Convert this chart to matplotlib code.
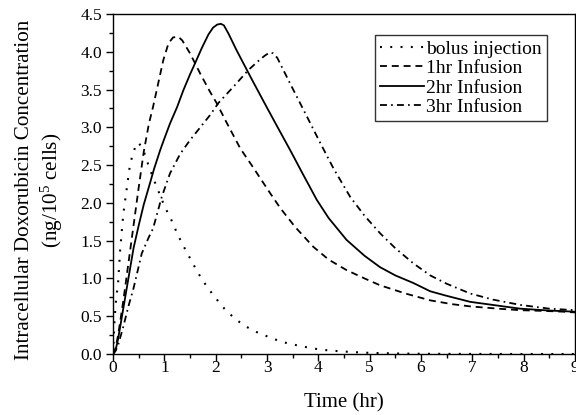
import numpy as np
import matplotlib
matplotlib.use('Agg')
import matplotlib.pyplot as plt
from matplotlib.ticker import MultipleLocator, FormatStrFormatter

plt.rcParams['font.family'] = ['Liberation Serif', 'DejaVu Serif']
plt.rcParams['mathtext.default'] = 'regular'
plt.rcParams['lines.scale_dashes'] = False

# Datos (tiempo en hr, concentracion)
t_bolus = [0, 0.03, 0.06, 0.1, 0.14, 0.2, 0.27, 0.32, 0.38, 0.44, 0.5, 0.6, 0.7, 0.8,
           0.9, 1.0, 1.14, 1.26, 1.38, 1.53, 1.66, 1.83, 2.0, 2.17, 2.37, 2.57, 2.8,
           3.05, 3.29, 3.55, 3.77, 4.02, 4.26, 4.65, 5.0, 5.5, 6.0, 7.0, 8.0, 9.0]
y_bolus = [0, 0.45, 0.72, 0.95, 1.38, 1.85, 2.2, 2.45, 2.64, 2.75, 2.8, 2.68, 2.48, 2.3,
           2.13, 1.96, 1.77, 1.58, 1.42, 1.23, 1.07, 0.89, 0.74, 0.6, 0.47, 0.37, 0.29,
           0.22, 0.16, 0.12, 0.09, 0.06, 0.044, 0.026, 0.015, 0.007, 0.003, 0.001, 0.0, 0.0]

t_1hr = [0, 0.05, 0.1, 0.2, 0.3, 0.4, 0.5, 0.6, 0.7, 0.78, 0.88, 0.98, 1.08, 1.17, 1.27,
         1.35, 1.5, 1.7, 1.89, 2.02, 2.2, 2.48, 2.7, 3.06, 3.26, 3.55, 3.9, 4.2, 4.55,
         4.9, 5.2, 5.7, 6.18, 6.6, 6.96, 7.5, 7.93, 8.4, 8.78, 9.0]
y_1hr = [0, 0.08, 0.25, 0.7, 1.2, 1.7, 2.2, 2.68, 3.05, 3.27, 3.58, 3.89, 4.11, 4.19, 4.2,
         4.15, 3.98, 3.71, 3.47, 3.32, 3.08, 2.72, 2.5, 2.13, 1.93, 1.68, 1.42, 1.25, 1.11,
         1.0, 0.91, 0.8, 0.71, 0.66, 0.63, 0.6, 0.58, 0.57, 0.56, 0.55]

t_2hr = [0, 0.05, 0.1, 0.2, 0.3, 0.4, 0.5, 0.6, 0.72, 0.8, 0.92, 1.0, 1.11, 1.25, 1.37,
         1.5, 1.6, 1.73, 1.86, 1.95, 2.03, 2.1, 2.16, 2.25, 2.4, 2.7, 3.0, 3.2, 3.45,
         3.7, 3.97, 4.2, 4.55, 4.9, 5.2, 5.5, 5.85, 6.18, 6.5, 6.96, 7.5, 7.93, 8.5, 9.0]
y_2hr = [0, 0.05, 0.2, 0.6, 1.0, 1.4, 1.7, 1.98, 2.26, 2.45, 2.7, 2.85, 3.05, 3.27, 3.49,
         3.7, 3.85, 4.05, 4.23, 4.32, 4.36, 4.37, 4.35, 4.24, 4.03, 3.64, 3.26, 3.01, 2.7,
         2.38, 2.04, 1.8, 1.51, 1.3, 1.15, 1.04, 0.94, 0.83, 0.77, 0.69, 0.64, 0.6, 0.575, 0.56]

t_3hr = [0, 0.05, 0.1, 0.2, 0.3, 0.4, 0.56, 0.7, 0.78, 0.95, 1.11, 1.31, 1.5, 1.7, 1.9,
         2.05, 2.35, 2.64, 2.85, 2.96, 3.05, 3.12, 3.2, 3.45, 3.75, 4.04, 4.3, 4.62,
         4.9, 5.2, 5.5, 5.85, 6.18, 6.5, 6.96, 7.4, 7.93, 8.5, 9.0]
y_3hr = [0, 0.04, 0.12, 0.36, 0.63, 0.87, 1.33, 1.55, 1.66, 2.08, 2.39, 2.65, 2.83, 3.0, 3.17,
         3.32, 3.54, 3.76, 3.89, 3.95, 3.99, 3.98, 3.92, 3.58, 3.18, 2.79, 2.45, 2.08,
         1.83, 1.6, 1.4, 1.2, 1.04, 0.93, 0.8, 0.72, 0.65, 0.6, 0.58]

labels = ['bolus injection', '1hr Infusion', '2hr Infusion', '3hr Infusion']

fig = plt.figure(figsize=(5.76, 4.15), dpi=100)
ax = fig.add_axes([113/576, 1 - 354/415, 462/576, 340/415])

ax.plot(t_bolus, y_bolus, color='black', lw=1.5, dashes=(1.4, 6), label=labels[0])
ax.plot(t_1hr, y_1hr, color='black', lw=1.3, dashes=(5, 3.5), label=labels[1])
ax.plot(t_2hr, y_2hr, color='black', lw=1.3, label=labels[2])
ax.plot(t_3hr, y_3hr, color='black', lw=1.3, dashes=(5, 3, 1.2, 3), label=labels[3])

ax.set_xlim(0, 9)
ax.set_ylim(0, 4.5)
ax.xaxis.set_major_locator(MultipleLocator(1))
ax.xaxis.set_minor_locator(MultipleLocator(0.5))
ax.yaxis.set_major_locator(MultipleLocator(0.5))
ax.yaxis.set_minor_locator(MultipleLocator(0.25))
ax.yaxis.set_major_formatter(FormatStrFormatter('%.1f'))
ax.tick_params(which='major', direction='out', length=5, width=1, labelsize=12.5, pad=3)
ax.tick_params(axis='x', which='major', pad=-1)
ax.tick_params(which='minor', direction='out', length=3, width=1)
ax.tick_params(top=False, right=False)
for sp in ax.spines.values():
    sp.set_linewidth(1.0)

ax.set_xlabel('Time (hr)', fontsize=15, labelpad=13)
fig.text(40/576, 1 - 190/415,
         'Intracellular Doxorubicin Concentration\n(ng/10$^5$ cells)',
         rotation=90, ha='center', va='center', multialignment='center',
         fontsize=15.2, linespacing=1.3)

leg = ax.legend(loc='upper right', bbox_to_anchor=(0.939, 0.938), borderaxespad=0,
                fontsize=14, frameon=True, fancybox=False, edgecolor='black',
                handlelength=2.3, handletextpad=0.1, labelspacing=0.1,
                borderpad=0.25)
leg.get_frame().set_linewidth(1.0)

fig.savefig('out.png', dpi=100)
